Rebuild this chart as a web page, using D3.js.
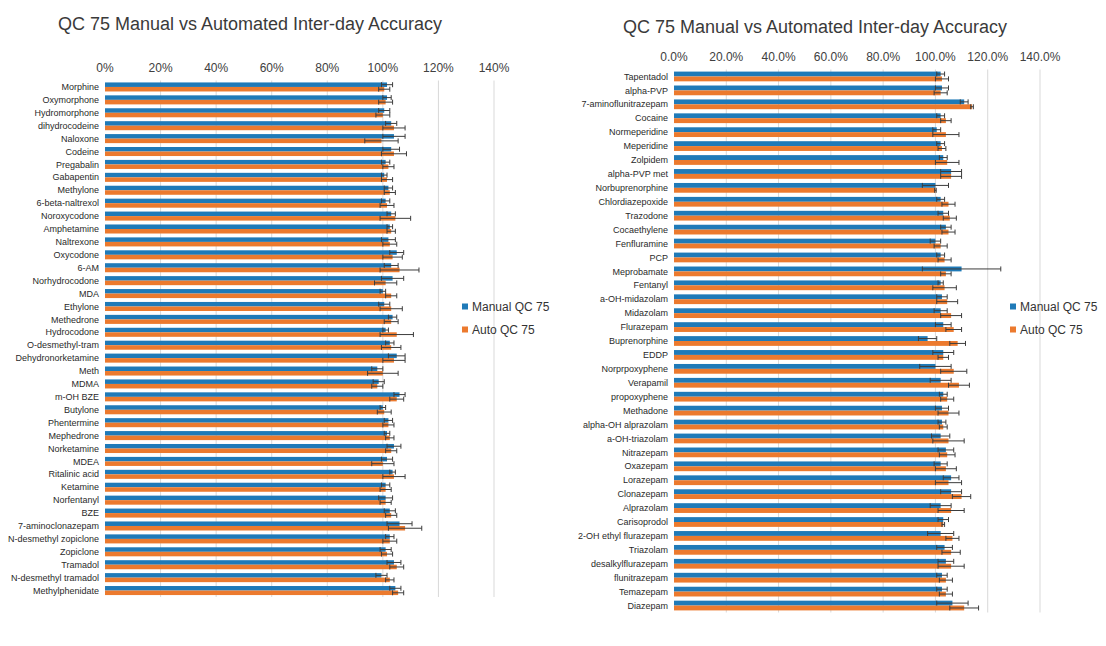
<!DOCTYPE html>
<html>
<head>
<meta charset="utf-8">
<script src="https://cdn.jsdelivr.net/npm/d3@7"></script>
<style>
  body { margin: 0; background: #fff; }
  svg { font-family: "Liberation Sans", Helvetica, Arial, sans-serif; }
</style>
</head>
<body>
<svg id="chart" width="1106" height="646"></svg>
<script>
var leftCategories = ["Morphine","Oxymorphone","Hydromorphone","dihydrocodeine","Naloxone","Codeine","Pregabalin","Gabapentin","Methylone","6-beta-naltrexol","Noroxycodone","Amphetamine","Naltrexone","Oxycodone","6-AM","Norhydrocodone","MDA","Ethylone","Methedrone","Hydrocodone","O-desmethyl-tram","Dehydronorketamine","Meth","MDMA","m-OH BZE","Butylone","Phentermine","Mephedrone","Norketamine","MDEA","Ritalinic acid","Ketamine","Norfentanyl","BZE","7-aminoclonazepam","N-desmethyl zopiclone","Zopiclone","Tramadol","N-desmethyl tramadol","Methylphenidate"];
var leftManual    = [101.5,101.5,100.5,103,104,103,101,100.5,102,101,103,102.5,102,105,103,103.5,100,100.5,103.5,101,102.5,105,98,98.5,106,100,102,101.5,104,101.5,103.5,101,101,102.5,106,102.5,101,104,99.5,104.5];
var leftManualErr = [2,1.5,2,2,4,3,1.5,1,1.5,1.5,1.5,1,2.5,2.5,2.5,4,1,2,1.5,1,1.5,3,2,2,2,1,1.5,1,2.5,2,1,1.5,2.5,2,4.5,1.5,2,2.5,2,2];
var leftAuto      = [100.5,101,100,104,99.5,104,102,101.5,102.5,101.5,104.5,103,102.5,103.5,106,101,103,103,103,105,103,104,100,98,105,100.5,102,102.5,103,100,104,101,101,103,108,102.5,101.5,105,102.5,105.5];
var leftAutoErr   = [2,2.5,2.5,4,6,4.5,2,2,2,2.5,5.5,1.5,2.5,3.5,7,4,2,4,2.5,6,3.5,4,5.5,2,2.5,2.5,2,1.5,2,4,4,2,2,2,6,2.5,2,2.5,1.5,2];
var leftTicks = [0,20,40,60,80,100,120,140];

var rightCategories = ["Tapentadol","alpha-PVP","7-aminoflunitrazepam","Cocaine","Normeperidine","Meperidine","Zolpidem","alpha-PVP met","Norbuprenorphine","Chlordiazepoxide","Trazodone","Cocaethylene","Fenfluramine","PCP","Meprobamate","Fentanyl","a-OH-midazolam","Midazolam","Flurazepam","Buprenorphine","EDDP","Norprpoxyphene","Verapamil","propoxyphene","Methadone","alpha-OH alprazolam","a-OH-triazolam","Nitrazepam","Oxazepam","Lorazepam","Clonazepam","Alprazolam","Carisoprodol","2-OH ethyl flurazepam","Triazolam","desalkylflurazepam","flunitrazepam","Temazepam","Diazepam"];
var rightManual    = [102,102.5,111,102,100.5,102,103,106,100,102,103,104,100,102,110,102,102.5,102,103,97,103,100,102,103,102.5,102.5,102,104,102,106,106,102,103,102,103.5,104,102.5,102.5,106.5];
var rightManualErr = [1.5,2.5,1.5,1.5,1.5,1.5,1.5,4,5,1.5,2,2,2,1.5,15,1,2,2.5,3,3.5,4,6,4,1.5,2.5,1.5,3.5,3,2.5,3,4,4,2,5,3,3,2,2,6];
var rightAuto      = [102.5,102,114,104,104,102.5,104.5,106,100,105,105.5,105,102,103.5,104,103.5,104.5,106,107,108.5,103,107,109,104.5,105,103,105,104.5,104,105,110,106,103,106.5,106,106,104,104,111];
var rightAutoErr   = [2.5,2.5,0.5,2,5,1.5,4.5,4,0.3,2.5,2.5,2.5,2.5,2.5,2,4.5,4,4,3,3,2,5,4,2.5,4,1.5,6,3,4,5,3.5,5,0.5,2.5,3.5,5,2.5,2.5,5.5];
var rightTicks = [0,20,40,60,80,100,120,140];

var seriesNames = ["Manual QC 75", "Auto QC 75"];
var colors = ["#1f7ab8", "#ec7a2e"];

var svg = d3.select("#chart");

function drawChart(cfg) {
  var g = svg.append("g");

  var x = d3.scaleLinear().domain([0, 140]).range([cfg.x0, cfg.x1]);
  var y = d3.scaleBand().domain(cfg.categories).range([cfg.y0, cfg.y1]).paddingInner(0.3).paddingOuter(0.15);
  var sub = d3.scaleBand().domain([0, 1]).range([0, y.bandwidth()]);

  // title
  g.append("text")
      .attr("x", cfg.titleX)
      .attr("y", cfg.titleY)
      .attr("text-anchor", "middle")
      .style("font-size", "18px")
      .style("fill", "#3a3a3a")
      .text("QC 75 Manual vs Automated Inter-day Accuracy");

  // gridlines
  g.selectAll(".grid")
      .data(cfg.ticks.slice(1))
      .enter().append("line")
      .attr("x1", function(d) { return x(d); })
      .attr("x2", function(d) { return x(d); })
      .attr("y1", cfg.y0)
      .attr("y2", cfg.y1)
      .style("stroke", "#d9d9d9")
      .style("stroke-width", 1);

  // top axis labels
  g.selectAll(".tick")
      .data(cfg.ticks)
      .enter().append("text")
      .attr("x", function(d) { return x(d); })
      .attr("y", cfg.tickY)
      .attr("text-anchor", "middle")
      .style("font-size", "12px")
      .style("fill", "#404040")
      .text(function(d) { return cfg.fmt(d); });

  // category labels
  g.selectAll(".cat")
      .data(cfg.categories)
      .enter().append("text")
      .attr("x", cfg.x0 - 6)
      .attr("y", function(d) { return y(d) + y.bandwidth() / 2; })
      .attr("dy", "0.35em")
      .attr("text-anchor", "end")
      .style("font-size", "9px")
      .style("fill", "#2a2a2a")
      .text(function(d) { return d; });

  var series = [
    { values: cfg.manual, errs: cfg.manualErr },
    { values: cfg.auto, errs: cfg.autoErr }
  ];

  series.forEach(function(s, si) {
    var rows = cfg.categories.map(function(c, i) { return { cat: c, v: s.values[i], e: s.errs[i] }; });

    g.selectAll(".bar" + si)
        .data(rows)
        .enter().append("rect")
        .attr("x", x(0))
        .attr("y", function(d) { return y(d.cat) + sub(si); })
        .attr("width", function(d) { return x(d.v) - x(0); })
        .attr("height", sub.bandwidth())
        .style("fill", colors[si]);
  });

  // error bars on top of both series
  series.forEach(function(s, si) {
    var rows = cfg.categories.map(function(c, i) { return { cat: c, v: s.values[i], e: s.errs[i] }; });
    var eb = g.selectAll(".err" + si)
        .data(rows)
        .enter().append("g")
        .attr("transform", function(d) { return "translate(0," + (y(d.cat) + sub(si) + sub.bandwidth() / 2) + ")"; })
        .style("stroke", "#3c3c3c")
        .style("stroke-width", 1);

    eb.append("line")
        .attr("x1", function(d) { return x(d.v - d.e); })
        .attr("x2", function(d) { return x(d.v + d.e); });
    eb.append("line")
        .attr("x1", function(d) { return x(d.v - d.e); })
        .attr("x2", function(d) { return x(d.v - d.e); })
        .attr("y1", -2.5).attr("y2", 2.5);
    eb.append("line")
        .attr("x1", function(d) { return x(d.v + d.e); })
        .attr("x2", function(d) { return x(d.v + d.e); })
        .attr("y1", -2.5).attr("y2", 2.5);
  });

  // legend
  var lg = g.selectAll(".legend")
      .data(seriesNames)
      .enter().append("g")
      .attr("transform", function(d, i) { return "translate(" + cfg.legendX + "," + (cfg.legendY + i * 23) + ")"; });
  lg.append("rect")
      .attr("x", 0).attr("y", -3.5)
      .attr("width", 6).attr("height", 6)
      .style("fill", function(d, i) { return colors[i]; });
  lg.append("text")
      .attr("x", 10)
      .attr("dy", "0.35em")
      .style("font-size", "12px")
      .style("fill", "#333")
      .text(function(d) { return d; });
}

drawChart({
  categories: leftCategories,
  manual: leftManual, manualErr: leftManualErr,
  auto: leftAuto, autoErr: leftAutoErr,
  ticks: leftTicks,
  fmt: function(d) { return d + "%"; },
  x0: 105, x1: 494, y0: 80.5, y1: 597,
  titleX: 250, titleY: 30, tickY: 72,
  legendX: 462, legendY: 307
});

drawChart({
  categories: rightCategories,
  manual: rightManual, manualErr: rightManualErr,
  auto: rightAuto, autoErr: rightAutoErr,
  ticks: rightTicks,
  fmt: function(d) { return d.toFixed(1) + "%"; },
  x0: 674, x1: 1040, y0: 69.5, y1: 612.5,
  titleX: 815, titleY: 33, tickY: 61,
  legendX: 1010, legendY: 307
});
</script>
</body>
</html>
